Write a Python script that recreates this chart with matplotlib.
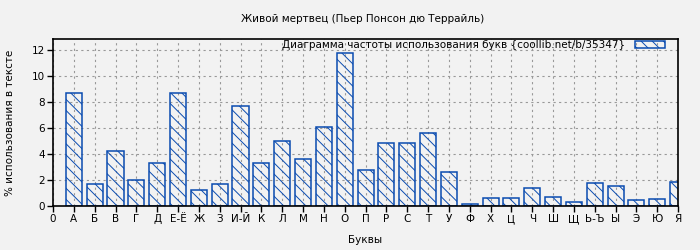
#!/usr/bin/env python

import matplotlib
matplotlib.use('Agg')
import matplotlib.pyplot as plt

# Data
letters = ['А', 'Б', 'В', 'Г', 'Д', 'Е-Ё', 'Ж', 'З', 'И-Й', 'К', 'Л', 'М', 'Н', 'О', 'П',
           'Р', 'С', 'Т', 'У', 'Ф', 'Х', 'Ц', 'Ч', 'Ш', 'Щ', 'Ь-Ъ', 'Ы', 'Э', 'Ю', 'Я']
percent = [8.65, 1.69, 4.19, 2.0, 3.33, 8.72, 1.22, 1.69, 7.71, 3.33, 4.97, 3.65, 6.07, 11.77, 2.79,
           4.82, 4.82, 5.6, 2.63, 0.16, 0.6, 0.6, 1.38, 0.68, 0.29, 1.77, 1.56, 0.44, 0.52, 1.85]
tick_labels = ['0'] + letters
y_ticks = [0, 2, 4, 6, 8, 10, 12]

title = 'Живой мертвец (Пьер Понсон дю Террайль)'
legend_label = 'Диаграмма частоты использования букв {coollib.net/b/35347}'

plt.rcParams['font.family'] = ['DejaVu Sans']
plt.rcParams['font.size'] = 7.5
plt.rcParams['hatch.linewidth'] = 0.7
plt.rcParams['hatch.color'] = '#0a4bb0'

bg = '#f2f2f2'
blue = '#0a4bb0'

fig = plt.figure(figsize=(7, 2.5), dpi=100, facecolor=bg)
ax = fig.add_axes([0.0757, 0.176, 0.893, 0.666], facecolor=bg)

pos = list(range(1, len(letters) + 1))
ax.bar(pos, percent, width=0.77, facecolor='none', edgecolor=blue,
       hatch='\\\\\\', linewidth=1.1, label=legend_label, zorder=3)

ax.set_xlim(0, 30)
ax.set_ylim(0, 12.8)
ax.set_xticks(range(0, 31))
ax.set_xticklabels(tick_labels)
ax.set_yticks(y_ticks)
ax.tick_params(direction='out', length=4, width=1, color='black', pad=2)
ax.grid(True, color='#999999', linestyle=(0, (2, 3)), linewidth=0.8, zorder=0)
for s in ax.spines.values():
    s.set_linewidth(1.2)
    s.set_zorder(4)

ax.set_xlabel('Буквы', labelpad=8)
ax.set_ylabel('% использования в тексте', labelpad=12)
fig.text(0.518, 0.925, title, ha='center', va='center')

leg = ax.legend(loc='upper right', bbox_to_anchor=(0.979, 0.995), frameon=False,
                markerfirst=False, handlelength=2.9, handleheight=0.6,
                handletextpad=0.9, borderaxespad=0.0, borderpad=0.0)

fig.savefig('out.png', dpi=100, facecolor=bg)
